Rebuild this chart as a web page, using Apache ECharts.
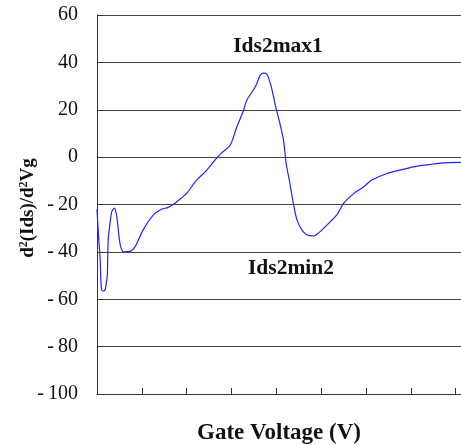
<!DOCTYPE html>
<html><head><meta charset="utf-8">
<script src="https://cdn.jsdelivr.net/npm/echarts@6/dist/echarts.min.js"></script>
<style>html,body{margin:0;padding:0;background:#fff}#c{width:461px;height:445px}</style>
</head><body><div id="c"></div>
<script>
var gateVoltage = [0.00,0.03,0.07,0.10,0.15,0.18,0.21,0.23,0.25,0.29,0.33,0.39,0.44,0.50,0.54,0.59,0.74,0.85,1.03,1.26,1.44,1.59,1.78,2.00,2.19,2.30,2.45,2.63,2.78,2.97,3.12,3.27,3.34,3.53,3.64,3.71,3.79,3.88,3.97,4.08,4.16,4.22,4.29,4.38,4.46,4.57,4.68,4.83,4.94,5.13,5.35,5.50,5.72,5.95,6.13,6.47,6.76,7.14,7.51,7.73,8.12];
var d2Ids = [-22,-32,-43,-56,-56.5,-56,-53,-50,-35,-28,-23,-21.5,-25,-35,-38.5,-40,-39.8,-37.8,-30.7,-24.4,-22,-21.2,-18.8,-15.3,-10.4,-8.3,-5.5,-1.3,1.8,5,12.8,19.8,24,29.6,34.5,35.5,35,30.3,22.6,14.2,7.2,-2.7,-9.7,-19.5,-26.5,-30.7,-32.8,-33.3,-32.1,-28.6,-24.4,-19.5,-15.5,-12.5,-9.7,-6.9,-5.5,-3.8,-2.9,-2.4,-2.2];
var yTicks = {min:-100, max:60, step:20};
var xRange = {min:0, max:8.12, step:1};
var xTickRange = {min:0, max:8, step:1};
var xTitle = 'Gate Voltage (V)';
var annotations = ['Ids2max1','Ids2min2'];

var data = gateVoltage.map(function(x,i){return [x, d2Ids[i]];});
var serif = '"Liberation Serif","Times New Roman",serif';
var pxPerUnit = 364 / (xRange.max - xRange.min);
var chart = echarts.init(document.getElementById('c'));
chart.setOption({
  animation:false,
  grid:[{left:97, top:15, width:364, height:379},
        {left:97, top:15, width:pxPerUnit*(xTickRange.max-xTickRange.min), height:379}],
  xAxis:[{type:'value', gridIndex:0, min:xRange.min, max:xRange.max, interval:xRange.step,
    axisLine:{onZero:false, lineStyle:{color:'#333',width:1}},
    axisTick:{show:false},
    axisLabel:{show:false}, splitLine:{show:false}},
   {type:'value', gridIndex:1, min:xTickRange.min, max:xTickRange.max, interval:xTickRange.step,
    axisLine:{show:false,onZero:false},
    axisTick:{inside:true,length:6,lineStyle:{color:'#333'}},
    axisLabel:{show:false}, splitLine:{show:false}}],
  yAxis:[{type:'value', gridIndex:0, min:yTicks.min, max:yTicks.max, interval:yTicks.step,
    axisLine:{show:true,onZero:false,lineStyle:{color:'#333',width:1}},
    axisTick:{show:true,inside:true,length:6,lineStyle:{color:'#333'}},
    axisLabel:{fontFamily:serif,fontSize:20,color:'#111',margin:19,
      formatter:function(v){return v<0 ? '-\u2009'+Math.abs(v) : String(v);}},
    splitLine:{lineStyle:{color:'#444',width:1}}},
   {type:'value', gridIndex:1, min:yTicks.min, max:yTicks.max, show:false}],
  series:[{type:'line', xAxisIndex:0, yAxisIndex:0, data:data, showSymbol:false, smooth:0.3,
    lineStyle:{color:'#2222ff',width:1.2}}],
  graphic:[
    {type:'text', x:279, y:433, style:{text:xTitle, font:'bold 23px '+serif, fill:'#111', textAlign:'center', textVerticalAlign:'middle'}},
    {type:'text', x:278, y:46, style:{text:annotations[0], font:'bold 21.5px '+serif, fill:'#111', textAlign:'center', textVerticalAlign:'middle'}},
    {type:'text', x:291, y:268, style:{text:annotations[1], font:'bold 21.5px '+serif, fill:'#111', textAlign:'center', textVerticalAlign:'middle'}},
    {type:'text', x:28, y:208, rotation:Math.PI/2,
      style:{text:'d{s|2}(Ids)/d{s|2}Vg', font:'bold 19px '+serif, fill:'#111', textAlign:'center', textVerticalAlign:'middle',
        rich:{s:{font:'bold 12px '+serif, fill:'#111', verticalAlign:'top', padding:[0,0,8,0]}}}}
  ]
});
</script></body></html>
